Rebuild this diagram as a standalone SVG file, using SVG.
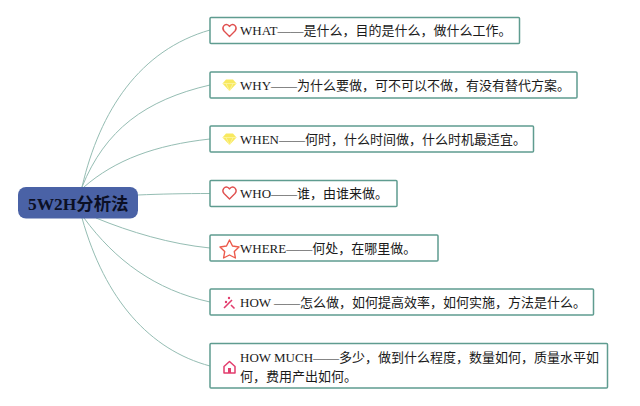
<svg xmlns="http://www.w3.org/2000/svg" width="640" height="406" viewBox="0 0 640 406">
<style>
.box{fill:#fff;stroke:#5f9c90;stroke-width:1.5}
.t{font-family:"Liberation Serif","Noto Sans CJK SC",serif;font-size:13px;fill:#1a1a1a}
.c{fill:none;stroke:#95bdb3;stroke-width:1}
.ico{fill:none;stroke-width:1.4;stroke-linejoin:round}
.gem{fill:#f8e95f}
.facet{fill:none;stroke:#fdf6b0;stroke-width:.7}
</style>
<rect width="640" height="406" fill="#fff"/>
<g id="connectors">
<path class="c" d="M82 187C100 110 140 50 210 30"/>
<path class="c" d="M82 187C105 130 145 100 210 85"/>
<path class="c" d="M84 187C115 160 155 145 210 139"/>
<path class="c" d="M138 195C160 194 185 193.500 210 193.500"/>
<path class="c" d="M96 218C130 232 170 244 210 248"/>
<path class="c" d="M84 218C115 260 155 290 210 302"/>
<path class="c" d="M82 218C105 300 150 350 210 366"/>
</g>
<g id="root">
<rect x="18" y="187" width="120" height="31.500" rx="8" fill="#4a62a6"/>
<text x="28" y="210" style="font-family:'Liberation Serif','Noto Sans CJK SC',serif;font-size:17.400px;font-weight:700;fill:#0b0f24">5W2H分析法</text>
</g>
<g id="what">
<rect class="box" x="210" y="17.500" width="309.500" height="26" rx="1"/>
<path class="ico" stroke="#e0504f" d="M229.500 36.500l-5.500-5.500c-3-3.500 1-8 4-6 .7.500 1.200 1 1.500 1.500.3-.5.800-1 1.500-1.500 3-2 7 2.500 4 6z"/>
<text class="t" x="240" y="35">WHAT——是什么，目的是什么，做什么工作。</text>
</g>
<g id="why">
<rect class="box" x="210" y="72" width="367" height="26" rx="1"/>
<path class="gem" d="M226 79.500h7l3.500 4-7 7.500-7-7.500z"/>
<path class="facet" d="M222.500 83.500h14M226 83.500l3.500 7.500 3.500-7.500"/>
<text class="t" x="240" y="89.500">WHY——为什么要做，可不可以不做，有没有替代方案。</text>
</g>
<g id="when">
<rect class="box" x="210" y="126" width="323.500" height="26" rx="1"/>
<path class="gem" d="M226 133.500h7l3.500 4-7 7.500-7-7.500z"/>
<path class="facet" d="M222.500 137.500h14M226 137.500l3.500 7.500 3.500-7.500"/>
<text class="t" x="240" y="143.500">WHEN——何时，什么时间做，什么时机最适宜。</text>
</g>
<g id="who">
<rect class="box" x="210" y="180.500" width="187" height="26" rx="1"/>
<path class="ico" stroke="#e0504f" d="M229.500 199l-5.500-5.500c-3-3.500 1-8 4-6 .7.500 1.200 1 1.500 1.500.3-.5.800-1 1.500-1.500 3-2 7 2.500 4 6z"/>
<text class="t" x="240" y="198">WHO——谁，由谁来做。</text>
</g>
<g id="where">
<rect class="box" x="210" y="235" width="228" height="26" rx="1"/>
<path class="ico" stroke="#ec5a4c" d="M229.500 240l3 6 6.500 1-4.700 4.600 1.100 6.400-5.900-3-5.900 3 1.100-6.400-4.700-4.600 6.500-1z"/>
<text class="t" x="240" y="252.500">WHERE——何处，在哪里做。</text>
</g>
<g id="how">
<rect class="box" x="210" y="289" width="383.500" height="26" rx="1"/>
<path fill="none" stroke="#e23d6d" stroke-width="1.600" d="M224 308l8-8M231 305l3.500 3.500"/>
<circle cx="226" cy="302" r="1.200" fill="#e23d6d"/><circle cx="229" cy="298" r="1.200" fill="#e23d6d"/>
<text class="t" x="240" y="306.500">HOW ——怎么做，如何提高效率，如何实施，方法是什么。</text>
</g>
<g id="howmuch">
<rect class="box" x="210" y="343.500" width="397.500" height="44.500" rx="1"/>
<path fill="none" stroke="#e23d6d" stroke-width="1.500" stroke-linejoin="round" d="M224 366.500l5.500-5 5.500 5v6.500h-11z"/>
<rect x="228" y="368" width="3" height="5" fill="#e23d6d"/>
<text class="t" x="240" y="362">HOW MUCH——多少，做到什么程度，数量如何，质量水平如</text>
<text class="t" x="240" y="381">何，费用产出如何。</text>
</g>
</svg>
